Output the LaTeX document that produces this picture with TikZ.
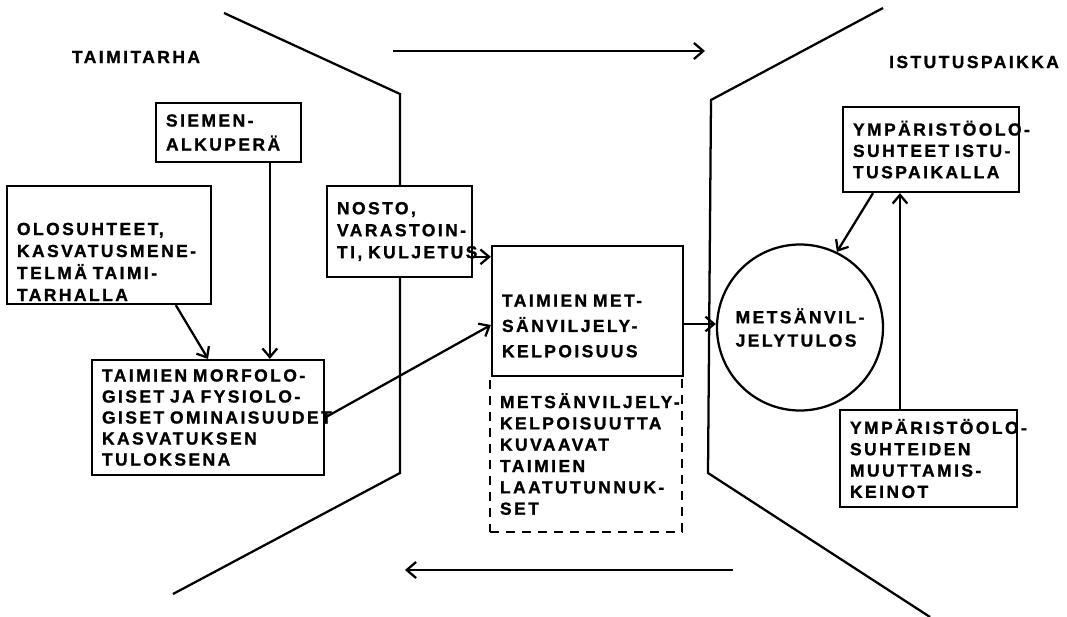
\documentclass[tikz,border=0pt]{standalone}
\usepackage{fontspec}
\newfontfamily\boxfont{Liberation Sans}[LetterSpace=14, UprightFont={* Bold}, FakeBold=1.2]
\newcommand\boxtext[1]{\boxfont\fontsize{13.1pt}{#1}\selectfont}
\usetikzlibrary{arrows.meta}
\hyphenpenalty=10000
\exhyphenpenalty=10000

\begin{document}
\begin{tikzpicture}[x=0.75pt, y=-0.75pt, line width=1.7pt,
	>={Straight Barb[length=6.5pt,width=11pt]},
	box/.style={draw, fill=white, align=left, inner xsep=7.5pt, inner ysep=0pt, font=\boxtext{16.5pt}}]
	\useasboundingbox (0,0) rectangle (1067,617);

	\draw (224,13) -- (400,94) -- (400,473) -- (173,594);
	\draw (883,8) -- (711,100) -- (708,473) -- (930,617);

	\node[font=\boxtext{15pt}] (taimitarha) at (136,57) {TAIMITARHA};
	\node[font=\boxtext{15pt}] (istutus) at (974,62) {ISTUTUSPAIKKA};

	\node[box, text width=93.75pt, minimum height=44.25pt, font=\boxtext{18pt}] (siemen) at (228.5,132.5) {SIEMEN-\\ALKUPERÄ};
	\node[box, text width=138pt, minimum height=88.5pt] (olo) at (109,245) {\rule{0pt}{34.5pt}OLOSUHTEET,\\KASVATUSMENE-\\TELMÄ~TAIMI-\\TARHALLA};
	\node[box, text width=93.75pt, minimum height=68.25pt] (nosto) at (399.5,231.5) {NOSTO,\\VARASTOIN-\\TI,~KULJETUS};
	\node[box, text width=159pt, minimum height=86.25pt, font=\boxtext{15.75pt}] (morfo) at (208,417.5) {TAIMIEN~MORFOLO-\\GISET~JA~FYSIOLO-\\GISET~OMINAISUUDET\\KASVATUKSEN\\TULOKSENA};
	\node[box, dash pattern=on 7pt off 5pt, text width=129pt, minimum height=117pt, font=\boxtext{16pt}] (laatu) at (586,454) {METSÄNVILJELY-\\KELPOISUUTTA\\KUVAAVAT\\TAIMIEN\\LAATUTUNNUK-\\SET};
	\node[box, text width=128.25pt, minimum height=97.5pt, font=\boxtext{19pt}] (kelp) at (587.5,311) {\rule{0pt}{31.5pt}TAIMIEN~MET-\\SÄNVILJELY-\\KELPOISUUS};
	\node[draw, circle, minimum size=124.5pt, inner sep=0pt, align=left, font=\boxtext{17.5pt}] (tulos) at (800,327.5) {METSÄNVIL-\\JELYTULOS};
	\node[box, text width=117pt, minimum height=63.75pt, font=\boxtext{16pt}] (ymp1) at (931,149.5) {YMPÄRISTÖOLO-\\SUHTEET~ISTU-\\TUSPAIKALLA};
	\node[box, text width=117.75pt, minimum height=72.75pt, font=\boxtext{16pt}] (ymp2) at (928.5,458.5) {YMPÄRISTÖOLO-\\SUHTEIDEN\\MUUTTAMIS-\\KEINOT};

	\draw[->] (olo.-42.7) -- (morfo.north);
	\draw[->] ([xshift=31pt]siemen.south) -- ([xshift=31pt]siemen.south |- morfo.north);
	\draw[->] (morfo.east) -- ([yshift=-10.5pt]kelp.west);
	\draw[->] ([yshift=-19pt]nosto.east) -- ([yshift=-19pt]nosto.east -| kelp.west);
	\draw[->] ([yshift=-9.75pt]kelp.east) -- ([yshift=-9.75pt]kelp.east -| tulos.west);
	\draw[->] ([xshift=-43.5pt]ymp1.south) -- (tulos.64);
	\draw[->] ([xshift=-21.4pt]ymp2.north) -- ([xshift=-21.4pt]ymp2.north |- ymp1.south);

	\coordinate (meno-alku) at (393,51);
	\coordinate (meno-loppu) at (705,51);
	\draw[-{Straight Barb[length=7pt,width=12pt]}] (meno-alku) -- (meno-loppu);
	\coordinate (paluu-alku) at (733,570);
	\coordinate (paluu-loppu) at (405,570);
	\draw[-{Straight Barb[length=7pt,width=12pt]}] (paluu-alku) -- (paluu-loppu);
\end{tikzpicture}
\end{document}
